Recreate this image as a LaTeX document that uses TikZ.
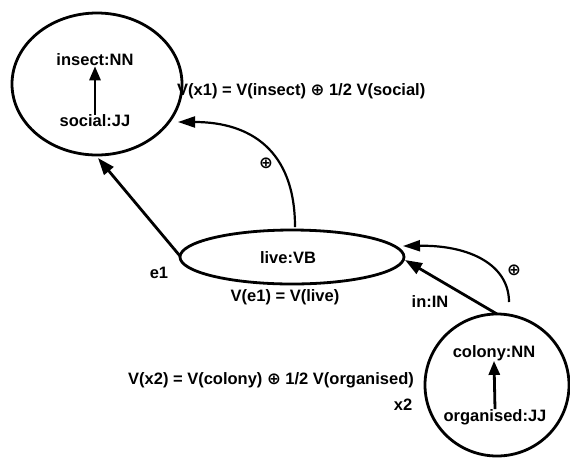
\documentclass[tikz,border=0pt]{standalone}
\usepackage{fontspec}
\setmainfont{Liberation Sans}
\newfontfamily\symf{DejaVu Sans}
\newcommand{\op}{{\symf ⊕}}
\usetikzlibrary{arrows.meta}
\begin{document}
\begin{tikzpicture}[x=1pt,y=-1pt,
  lbl/.style={font=\fontsize{16.5}{18}\selectfont\bfseries, inner sep=0pt},
  big/.style={line width=2.8pt, -{Triangle[length=17pt,width=12pt]}},
  curv/.style={line width=2.2pt, -{Triangle[length=17pt,width=11pt]}},
  small/.style={line width=2.8pt, -{Triangle[length=14pt,width=11pt]}}]
\useasboundingbox (0,0) rectangle (570,459);
% x1 ellipse
\draw[line width=2.8pt] (97,84) ellipse [x radius=85, y radius=71];
\node[lbl] (insect) at (95,60) {insect:NN};
\node[lbl] (social) at (95,121) {social:JJ};
\draw[small] (social.north) -- (insect.south);
% live ellipse
\draw[line width=2.8pt] (292,257) ellipse [x radius=112, y radius=27];
\node[lbl] (live) at (288,258) {live:VB};
\coordinate (liveL) at (180,256);
\coordinate (liveT) at (295,227);
\coordinate (liveR) at (405,260);
\coordinate (liveR2) at (403,246);
% x2 circle
\draw[line width=2.8pt] (497,385) ellipse [x radius=72, y radius=71];
\node[lbl] (colony) at (494,353) {colony:NN};
\node[lbl] (organised) at (495,417) {organised:JJ};
\draw[small] (organised.north) -- (colony.south);
\coordinate (x2T) at (497,314);
\coordinate (x2S) at (509,302);
% x1 entry points
\coordinate (x1B) at (98,158);
\coordinate (x1R) at (178,122);
% connectors
\draw[big] (liveL) -- (x1B);
\draw[curv] (liveT) .. controls (295,150) and (250,122) .. (x1R);
\draw[big] (x2T) -- (liveR);
\draw[curv] (x2S) .. controls (509,265) and (470,245) .. (liveR2);
% labels
\node[lbl, anchor=west] (f1) at (177,91) {V(x1) = V(insect) \op{} 1/2 V(social)};
\node[lbl] (p1) at (266,163) {\op};
\node[lbl] (e1) at (159,273) {e1};
\node[lbl] (f2) at (285,297) {V(e1) = V(live)};
\node[lbl] (in) at (430,302) {in:IN};
\node[lbl] (p2) at (514,270) {\op};
\node[lbl] (f3) at (271,380) {V(x2) = V(colony) \op{} 1/2 V(organised)};
\node[lbl] (x2l) at (403,405) {x2};
\end{tikzpicture}
\end{document}
